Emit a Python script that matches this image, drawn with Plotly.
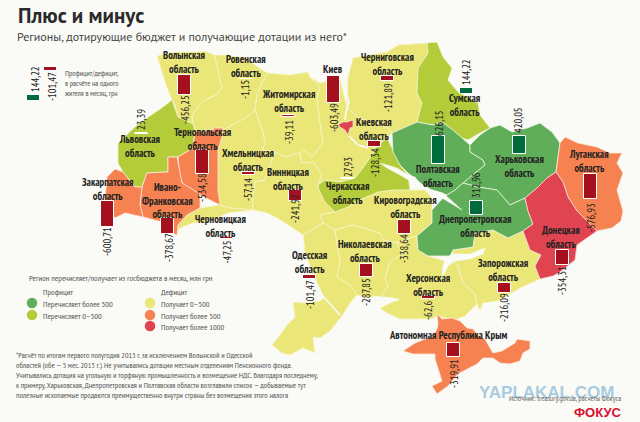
import plotly.graph_objects as go

# ---------- data: values per region (UAH per resident per month) ----------
regions = ["Волынская", "Ровенская", "Житомирская", "Львовская", "Тернопольская", "Хмельницкая",
           "Винницкая", "Закарпатская", "Ивано-Франковская", "Черновицкая", "Одесская", "Киев",
           "Черниговская", "Киевская", "Черкасская", "Полтавская", "Сумская", "Харьковская",
           "Луганская", "Днепропетровская", "Кировоградская", "Николаевская", "Херсонская",
           "Запорожская", "Донецкая", "Крым"]
values = [-456.25, -1.15, -39.11, 23.39, -534.58, -57.14,
          -241.97, -600.71, -378.67, -47.25, -101.47, -603.49,
          -121.89, -128.34, 27.93, 626.15, 144.22, 420.05,
          -576.93, 312.96, -338.64, -287.85, -62.6,
          -216.09, -354.31, -319.91]
value_text = ["-456,25", "-1,15", "-39,11", "23,39", "-534,58", "-57,14",
              "-241,97", "-600,71", "-378,67", "-47,25", "-101,47", "-603,49",
              "-121,89", "-128,34", "27,93", "626,15", "144,22", "420,05",
              "-576,93", "312,96", "-338,64", "-287,85", "-62,6",
              "-216,09", "-354,31", "-319,91"]
legend_values = [144.22, -101.47]
legend_value_text = ["144,22", "-101,47"]

# ---------- layout (page pixels) ----------
bar_x = [184.5, 245, 288, 141, 202, 248.7, 295, 107.5, 167, 226, 309.5, 333, 387, 374, 347, 438, 466, 519,
         590, 476, 404, 366, 428, 504, 562, 453.5]
bar_top = [75, 78.5, 115, 133, 150, 172, 190, 201, 217.5, 237, 275, 76, 76, 141, 178, 136, 87.5, 136,
           173.5, 201, 219.5, 264, 296, 283, 249.5, 343]
val_x = [185, 245, 289, 141, 202, 248, 295, 107, 169, 226.5, 310, 334, 388, 375, 348, 439, 466, 518,
         591, 476, 404, 366, 428, 504, 562, 454]
val_y = [110, 90, 132, 120, 188, 190, 209, 242, 248, 252, 295, 118, 98, 163, 167, 123, 72, 120,
         218, 185, 249, 292, 311, 308, 281, 374]
name_text = ["Волынская<br>область", "Ровенская<br>область", "Житомирская<br>область", "Львовская<br>область",
             "Тернопольская<br>область", "Хмельницкая<br>область", "Винницкая<br>область",
             "Закарпатская<br>область", "Ивано-<br>Франковская<br>область", "Черновицкая<br>область",
             "Одесская<br>область", "Киев", "Черниговская<br>область", "Киевская<br>область",
             "Черкасская<br>область", "Полтавская<br>область", "Сумская<br>область", "Харьковская<br>область",
             "Луганская<br>область", "Днепропетровская<br>область", "Кировоградская<br>область",
             "Николаевская<br>область", "Херсонская<br>область", "Запорожская<br>область",
             "Донецкая<br>область", "Автономная Республика Крым"]
name_x = [184, 246, 288, 139, 202, 248, 288, 107, 167, 220, 309, 333, 387, 374, 347, 438, 464, 519, 589, 475, 405,
          365, 428, 503, 561, 448]
name_y = [62, 66, 101, 146, 139, 160, 179, 189, 200, 226, 262, 69, 64, 129, 193, 176, 105, 166, 161, 226, 207,
          251, 285, 270, 237, 335]

GREEN = "#61AE5A"; LIME = "#B4CB3A"; YELLOW = "#EAE678"; ORANGE = "#F58250"; RED = "#DF4450"
BAR_RED = "#A5101F"; BAR_GREEN = "#006B3C"; INK = "#222222"; GREY = "#555555"; BG = "#FAFAF7"
border_colors = {YELLOW: "#F7F5C6", LIME: "#F1F4C8", GREEN: "#EEF4E2", ORANGE: "#FBE9DC", RED: "#F8D8D8"}

# ---------- region outlines (page pixels) ----------
outlines = [
 (YELLOW, [(157,56),(167,53),(178,52),(195,52),(205,51),(214,55),(217,65),(219,75),(222,88),(216,95),(205,100),(197,108),(192,116),(193,124),(178,117),(175,105),(172,100),(166,85),(161,70)]),
 (YELLOW, [(214,55),(225,55),(245,58),(262,70),(268,73),(262,83),(257,95),(255,110),(245,118),(232,125),(223,130),(213,130),(195,132),(193,124),(192,116),(197,108),(205,100),(216,95),(222,88),(219,75),(217,65)]),
 (YELLOW, [(268,73),(290,75),(308,72),(310,77),(320,87),(317,97),(320,123),(323,143),(312,157),(303,150),(300,153),(285,157),(275,152),(262,150),(265,143),(263,132),(260,123),(255,110),(257,95),(262,83)]),
 (YELLOW, [(223,130),(232,125),(245,118),(255,110),(260,123),(263,132),(265,143),(262,150),(275,152),(270,165),(265,180),(255,182),(253,197),(253,210),(230,208),(219,205),(218,190),(218,170),(218,150),(222,137)]),
 (YELLOW, [(275,152),(285,157),(300,153),(302,163),(313,162),(322,175),(318,185),(319,190),(325,202),(335,212),(320,215),(323,223),(303,235),(293,228),(277,218),(267,213),(253,210),(253,197),(255,182),(265,180),(270,165)]),
 (YELLOW, [(177,235),(178,225),(187,215),(200,208),(219,205),(230,208),(253,210),(228,213),(207,222),(193,223),(180,228)]),
 (YELLOW, [(310,77),(320,83),(340,78),(343,92),(347,107),(357,117),(373,122),(388,128),(392,133),(387,138),(378,145),(372,155),(363,168),(355,178),(340,182),(325,180),(318,185),(322,175),(313,162),(302,163),(300,153),(303,150),(312,157),(323,143),(320,123),(317,97),(320,87)]),
 (YELLOW, [(348,77),(353,58),(387,52),(398,45),(427,43),(428,53),(418,68),(417,93),(422,103),(417,122),(408,128),(392,133),(388,128),(373,122),(357,117),(347,107)]),
 (YELLOW, [(320,215),(335,212),(348,207),(355,202),(378,192),(393,190),(410,190),(425,190),(432,198),(432,223),(417,236),(413,237),(397,243),(383,240),(380,233),(353,225),(335,230),(323,223)]),
 (YELLOW, [(335,230),(353,225),(380,233),(383,240),(397,243),(402,254),(390,262),(385,278),(388,286),(385,291),(380,298),(365,297),(357,295),(350,285),(337,277),(340,260),(337,245)]),
 (YELLOW, [(402,254),(397,243),(413,237),(417,236),(418,250),(428,256),(445,261),(453,259),(458,266),(463,283),(475,294),(477,304),(465,316),(455,320),(437,316),(432,319),(400,319),(385,312),(380,308),(393,302),(399,299),(380,298),(385,291),(388,286),(385,278),(390,262)]),
 (YELLOW, [(475,233),(493,230),(508,238),(523,231),(530,250),(541,255),(535,266),(540,279),(520,288),(512,293),(497,301),(483,303),(480,311),(477,304),(475,294),(463,283),(458,266),(453,259),(453,250),(473,247)]),
 (YELLOW, [(303,235),(323,223),(335,230),(337,245),(340,260),(337,277),(350,285),(357,295),(350,303),(342,316),(330,331),(320,338),(313,337),(315,353),(303,348),(290,355),(282,353),(272,345),(280,335),(287,325),(295,317),(293,302),(305,303),(320,301),(324,298),(322,293),(315,278),(305,253),(304,243)]),
 (LIME, [(163,107),(172,100),(178,117),(193,124),(195,132),(193,148),(178,157),(168,157),(168,172),(147,173),(142,187),(135,187),(123,172),(118,163),(118,143),(128,133),(135,127),(147,118)]),
 (LIME, [(427,43),(437,42),(443,57),(452,68),(448,80),(458,92),(478,103),(480,115),(490,128),(480,133),(468,140),(462,138),(453,130),(442,122),(433,125),(417,122),(422,103),(417,93),(418,68),(428,53)]),
 (LIME, [(318,185),(325,180),(340,182),(355,178),(363,168),(372,155),(378,145),(387,138),(393,150),(400,165),(408,175),(410,190),(393,190),(378,192),(355,202),(348,207),(335,212),(325,202),(319,190)]),
 (GREEN, [(392,133),(403,128),(417,122),(433,125),(442,122),(453,130),(462,138),(470,145),(470,152),(483,160),(485,165),(475,173),(463,183),(455,190),(447,195),(432,190),(423,185),(408,173),(400,165),(393,152)]),
 (GREEN, [(470,145),(480,135),(490,128),(500,125),(512,132),(527,128),(540,123),(552,132),(560,143),(558,157),(556,172),(547,178),(537,188),(525,198),(510,205),(503,197),(497,190),(478,187),(463,183),(475,173),(485,165),(483,160),(470,152)]),
 (GREEN, [(417,236),(432,223),(432,210),(443,198),(447,195),(455,190),(463,183),(478,187),(497,190),(503,197),(510,205),(525,198),(528,211),(533,224),(523,231),(508,238),(493,230),(475,233),(473,247),(453,250),(450,256),(428,256),(418,250)]),
 (ORANGE, [(178,157),(193,148),(195,132),(213,130),(214,128),(223,128),(222,137),(218,150),(218,170),(218,190),(220,205),(200,195),(185,190),(180,177)]),
 (ORANGE, [(142,187),(147,173),(168,172),(168,157),(177,157),(178,163),(182,183),(200,194),(200,208),(187,215),(178,225),(177,235),(172,233),(162,222),(143,217),(140,205)]),
 (ORANGE, [(107,177),(115,169),(123,172),(135,187),(142,187),(140,205),(143,217),(135,215),(125,213),(115,218),(110,212),(105,200)]),
 (ORANGE, [(560,143),(565,137),(578,143),(597,147),(610,153),(622,153),(617,163),(623,173),(617,190),(620,200),(623,211),(621,221),(612,228),(597,231),(587,221),(577,211),(568,197),(563,182),(556,172),(558,157)]),
 (ORANGE, [(437,314),(442,319),(452,318),(460,321),(467,328),(473,329),(478,335),(485,339),(493,353),(502,351),(515,343),(517,339),(530,341),(530,349),(523,353),(520,361),(510,364),(500,363),(493,358),(483,358),(477,364),(458,374),(448,386),(437,394),(432,386),(442,381),(435,359),(435,354),(413,354),(403,351),(415,343),(433,336),(437,329),(438,324)]),
 (RED, [(556,172),(563,182),(568,197),(577,211),(587,221),(597,231),(577,245),(575,260),(560,272),(553,276),(540,279),(535,266),(541,255),(530,250),(523,231),(533,224),(528,211),(525,198),(537,188),(547,178)]),
 (RED, [(338,125),(343,122),(347,122),(353,120),(353,127),(350,128),(348,135),(345,130),(340,127)]),
]
# rivers and reservoirs painted in the paper colour
water_fill = [
 [(380,163),(397,168),(408,175),(415,177),(423,188),(417,185),(400,175),(387,168)],
 [(432,190),(443,193),(462,210),(450,203),(437,195)],
 [(445,259),(452,254),(470,254),(485,248),(483,254),(470,259),(455,261),(448,266),(442,278),(443,266)],
 [(373,296),(393,298),(399,300),(385,303),(375,300)],
]
water_lines = [
 [(344,75),(346,92),(349,102),(346,112),(345,120)],
 [(349,136),(358,145),(368,148)],
 [(322,295),(340,315)],
]

fig = go.Figure()
for color, pts in outlines:
    xs, ys = zip(*(pts + pts[:1]))
    fig.add_trace(go.Scatter(x=xs, y=ys, mode="lines", fill="toself", fillcolor=color,
                             line=dict(color=border_colors[color], width=0.8), hoverinfo="skip", showlegend=False))
for pts in water_fill:
    xs, ys = zip(*(pts + pts[:1]))
    fig.add_trace(go.Scatter(x=xs, y=ys, mode="lines", fill="toself", fillcolor=BG,
                             line=dict(color=BG, width=0.5), hoverinfo="skip", showlegend=False))
for pts in water_lines:
    xs, ys = zip(*pts)
    fig.add_trace(go.Scatter(x=xs, y=ys, mode="lines", line=dict(color=BG, width=1.6),
                             hoverinfo="skip", showlegend=False))

# colour legend dots
dot_colors = [GREEN, LIME, YELLOW, ORANGE, RED]
dot_labels = ["Перечисляет более 500", "Перечисляет 0–500", "Получает 0–500", "Получает более 500", "Получает более 1000"]
dot_x = [32, 32, 150, 150, 150]
dot_y = [303, 315, 303, 315, 326]
fig.add_trace(go.Scatter(x=dot_x, y=dot_y, mode="markers", marker=dict(size=10.5, color=dot_colors),
                         hoverinfo="skip", showlegend=False))

# bars on an overlaid value axis: 1 px = 22.7 units
PX_PER_UNIT = 0.044
legend_bar_x = [33.5, 50.5]
legend_bar_top = [94.7, 66.5]
all_vals = values + legend_values
all_x = bar_x + legend_bar_x
all_top = bar_top + legend_bar_top
fig.add_trace(go.Bar(x=all_x, y=[abs(v) for v in all_vals], base=[t / PX_PER_UNIT for t in all_top],
                     width=13, xaxis="x2", yaxis="y2",
                     marker=dict(color=[BAR_GREEN if v > 0 else BAR_RED for v in all_vals],
                                 line=dict(color="#FFFFFF", width=1)),
                     hoverinfo="skip", showlegend=False))

NARROW = "PT Sans Narrow, Roboto Condensed, Roboto"
WIDE = "PT Sans, Open Sans"
def note(x, y, text, size=10, color=INK, anchor="center", angle=0, family=NARROW, bold=False):
    t = f"<b>{text}</b>" if bold else text
    fig.add_annotation(x=x, y=y, xref="x", yref="y", text=t, showarrow=False, textangle=angle,
                       xanchor=anchor, yanchor="middle", align="center" if anchor == "center" else "left",
                       font=dict(family=family, size=size, color=color))

for x, y, t in zip(name_x, name_y, name_text):
    note(x, y, t, size=10.5, bold=True)
for x, y, t in zip(val_x, val_y, value_text):
    note(x, y, t, size=10.5, angle=-90)
note(35, 79, legend_value_text[0], size=10.5, angle=-90)
note(52, 87, legend_value_text[1], size=10.5, angle=-90)

note(16, 15, "Плюс и минус", size=21, color="#2A2A2A", anchor="left", family=WIDE, bold=True)
note(15, 36, "Регионы, дотирующие бюджет и получающие дотации из него*", size=12, color="#444444", anchor="left", family=WIDE)
note(63, 82.5, "Профицит/дефицит,<br>в расчёте на одного<br>жителя в месяц, грн", size=7.6, color=GREY, anchor="left")
note(27, 277, "Регион перечисляет/получает из госбюджета в месяц, млн грн", size=8.4, color=GREY, anchor="left")
note(41, 291, "Профицит", size=8.4, color=GREY, anchor="left")
note(159, 291, "Дефицит", size=8.4, color=GREY, anchor="left")
for x, y, t in zip(dot_x, dot_y, dot_labels):
    note(x + 9, y, t, size=8.4, color=GREY, anchor="left")

foot = ["*Расчёт по итогам первого полугодия 2013 г. за исключением Волынской и Одесской",
        "областей (обе — 5 мес. 2013 г.). Не учитывались дотации местным отделениям Пенсионного фонда.",
        "Учитывались дотация на угольную и торфяную промышленность и возмещение НДС. Благодаря последнему,",
        "к примеру, Харьковская, Днепропетровская и Полтавская области возглавили список — добываемые тут",
        "полезные ископаемые продаются преимущественно внутри страны без возмещения этого налога"]
for i, line in enumerate(foot):
    note(14, 355 + i * 10, line, size=7.9, color=GREY, anchor="left")

note(546, 392, "YAPLAKAL.COM", size=17, color="#A9CBE0", family="Liberation Sans", bold=True)
note(564.5, 398, "Источник: treasury.gov.ua, расчеты Фокуса", size=7.6, color="#666666", anchor="center")
note(598, 412, "ФОКУС", size=13, color="#D7132F", family="Liberation Sans", bold=True)

axis = dict(visible=False, fixedrange=True)
fig.update_layout(
    width=640, height=422, margin=dict(l=0, r=0, t=0, b=0),
    paper_bgcolor=BG, plot_bgcolor=BG, bargap=0, showlegend=False,
    xaxis=dict(range=[0, 640], **axis), yaxis=dict(range=[422, 0], **axis),
    xaxis2=dict(range=[0, 640], overlaying="x", **axis),
    yaxis2=dict(range=[422 / PX_PER_UNIT, 0], overlaying="y", **axis),
)
fig.write_html("out.html", config=dict(displayModeBar=False),
               post_script="document.body.style.margin='0';document.body.style.background='" + BG + "';")
